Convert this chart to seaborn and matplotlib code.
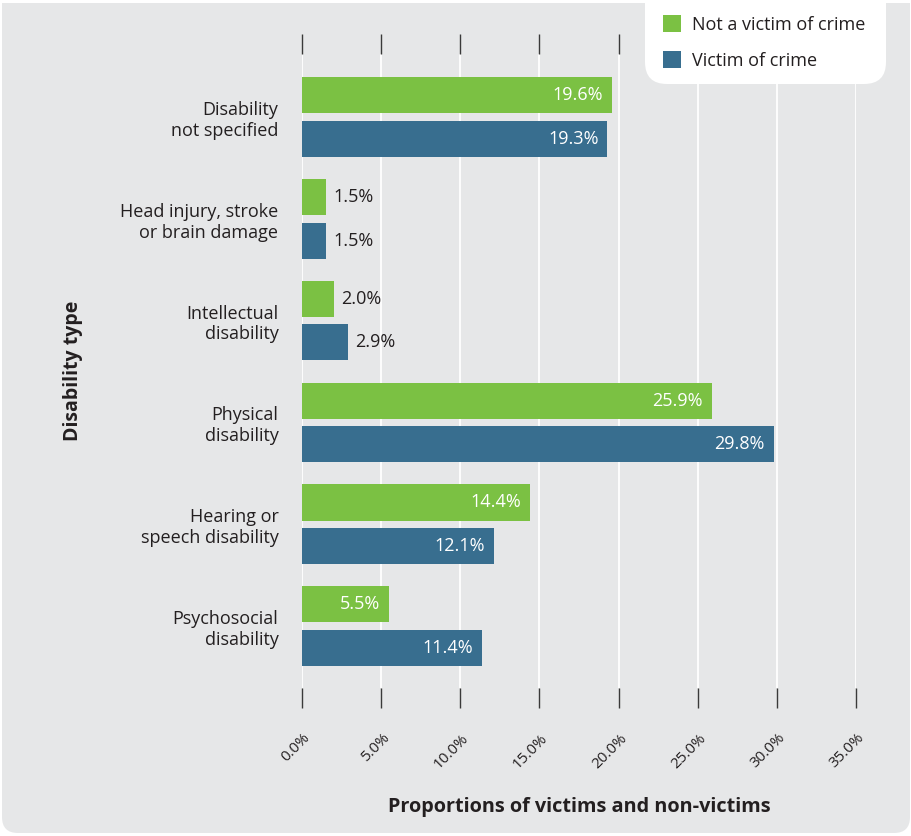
import numpy as np
import pandas as pd
import seaborn as sns
import matplotlib.pyplot as plt
from matplotlib.patches import FancyBboxPatch, Rectangle, Patch
from matplotlib.transforms import IdentityTransform, ScaledTranslation

# Data
categories = [
    "Disability\nnot specified",
    "Head injury, stroke\nor brain damage",
    "Intellectual\ndisability",
    "Physical\ndisability",
    "Hearing or\nspeech disability",
    "Psychosocial\ndisability",
]
not_victim = [19.6, 1.5, 2.0, 25.9, 14.4, 5.5]
victim = [19.3, 1.5, 2.9, 29.8, 12.1, 11.4]
groups = ["Not a victim of crime", "Victim of crime"]
x_ticks = [0, 5, 10, 15, 20, 25, 30, 35]
x_tick_labels = [f"{t:.1f}%" for t in x_ticks]

df = pd.DataFrame({
    "category": categories * 2,
    "value": not_victim + victim,
    "group": [groups[0]] * len(categories) + [groups[1]] * len(categories),
})

GREEN = "#7BC143"
BLUE = "#386E8F"
BG = "#E6E7E8"
TEXT = "#231F20"

plt.rcParams["font.family"] = ["Open Sans", "DejaVu Sans"]

W, H = 912, 836
fig = plt.figure(figsize=(W / 100, H / 100), dpi=100, facecolor="white")

# Rounded grey panel behind the chart (square top, rounded bottom)
fig.add_artist(FancyBboxPatch((2, 3), 908, 830, boxstyle="round,pad=0,rounding_size=16",
                              transform=IdentityTransform(), fc=BG, ec="none", zorder=-5))
fig.add_artist(Rectangle((2, 400), 908, 433, transform=IdentityTransform(),
                         fc=BG, ec="none", zorder=-5))

ax = fig.add_axes([302 / W, 1 - 688 / H, 554 / W, 634 / H])
ax.patch.set_visible(False)

sns.barplot(data=df, y="category", x="value", hue="group", orient="h",
            palette=[GREEN, BLUE], width=0.854, gap=0.17, saturation=1,
            legend=False, ax=ax)

ax.set_xlim(0, 35)
ax.set_ylim(5.609, -0.619)
ax.set_xticks(x_ticks)
ax.set_xticklabels(x_tick_labels)
ax.xaxis.grid(True, color="white", lw=1.3)
ax.yaxis.grid(False)
ax.set_axisbelow(True)
for s in ax.spines.values():
    s.set_visible(False)

ax.tick_params(axis="x", which="both", top=True, bottom=True, direction="out",
               length=14.5, width=1.0, color="#3a3a3a", labeltop=False,
               labelsize=11, labelcolor=TEXT, pad=20)
for lbl in ax.get_xticklabels():
    lbl.set_rotation(45)
    lbl.set_rotation_mode("anchor")
    lbl.set_ha("right")
    lbl.set_va("center")
    lbl.set_transform(lbl.get_transform() + ScaledTranslation(6 / 100, 0, fig.dpi_scale_trans))

ax.tick_params(axis="y", length=0, pad=17, labelsize=13, labelcolor=TEXT)
for lbl in ax.get_yticklabels():
    lbl.set_linespacing(1.2)

ax.set_xlabel("Proportions of victims and non-victims", fontsize=14.3, fontweight="bold",
              color=TEXT, labelpad=16)
ax.set_ylabel("Disability type", fontsize=14, fontweight="bold", color=TEXT, labelpad=0)
ax.yaxis.set_label_coords(-229 / 554, 0.5)
ax.xaxis.set_label_coords(0.5, -(807 - 688) / 634)
ax.xaxis.label.set_va("center")
ax.yaxis.label.set_va("center")

# Value labels: inside long bars, outside short ones
for cont in ax.containers:
    for bar in cont:
        v = bar.get_width()
        yc = bar.get_y() + bar.get_height() / 2
        if v >= 5:
            ax.annotate(f"{v:.1f}%", (v, yc), xytext=(-6.5, 0), textcoords="offset points",
                        ha="right", va="center", color="white", fontsize=13)
        else:
            ax.annotate(f"{v:.1f}%", (v, yc), xytext=(5.5, 0), textcoords="offset points",
                        ha="left", va="center", color=TEXT, fontsize=13)

# Legend on a white rounded card at the top right
fig.add_artist(FancyBboxPatch((645, H - 84), 241, 130, boxstyle="round,pad=0,rounding_size=22",
                              transform=IdentityTransform(), fc="white", ec="none", zorder=5))
handles = [Patch(facecolor=GREEN, edgecolor="none"), Patch(facecolor=BLUE, edgecolor="none")]
leg = fig.legend(handles, groups, loc="upper left", bbox_to_anchor=(663 / W, 1 - 15 / H),
                 frameon=False, fontsize=13, handlelength=1.0, handleheight=1.05,
                 handletextpad=0.6, labelspacing=0.98, borderpad=0, borderaxespad=0)
leg.set_zorder(6)
for t in leg.get_texts():
    t.set_color(TEXT)

fig.savefig("out.png", dpi=100, facecolor="white")
